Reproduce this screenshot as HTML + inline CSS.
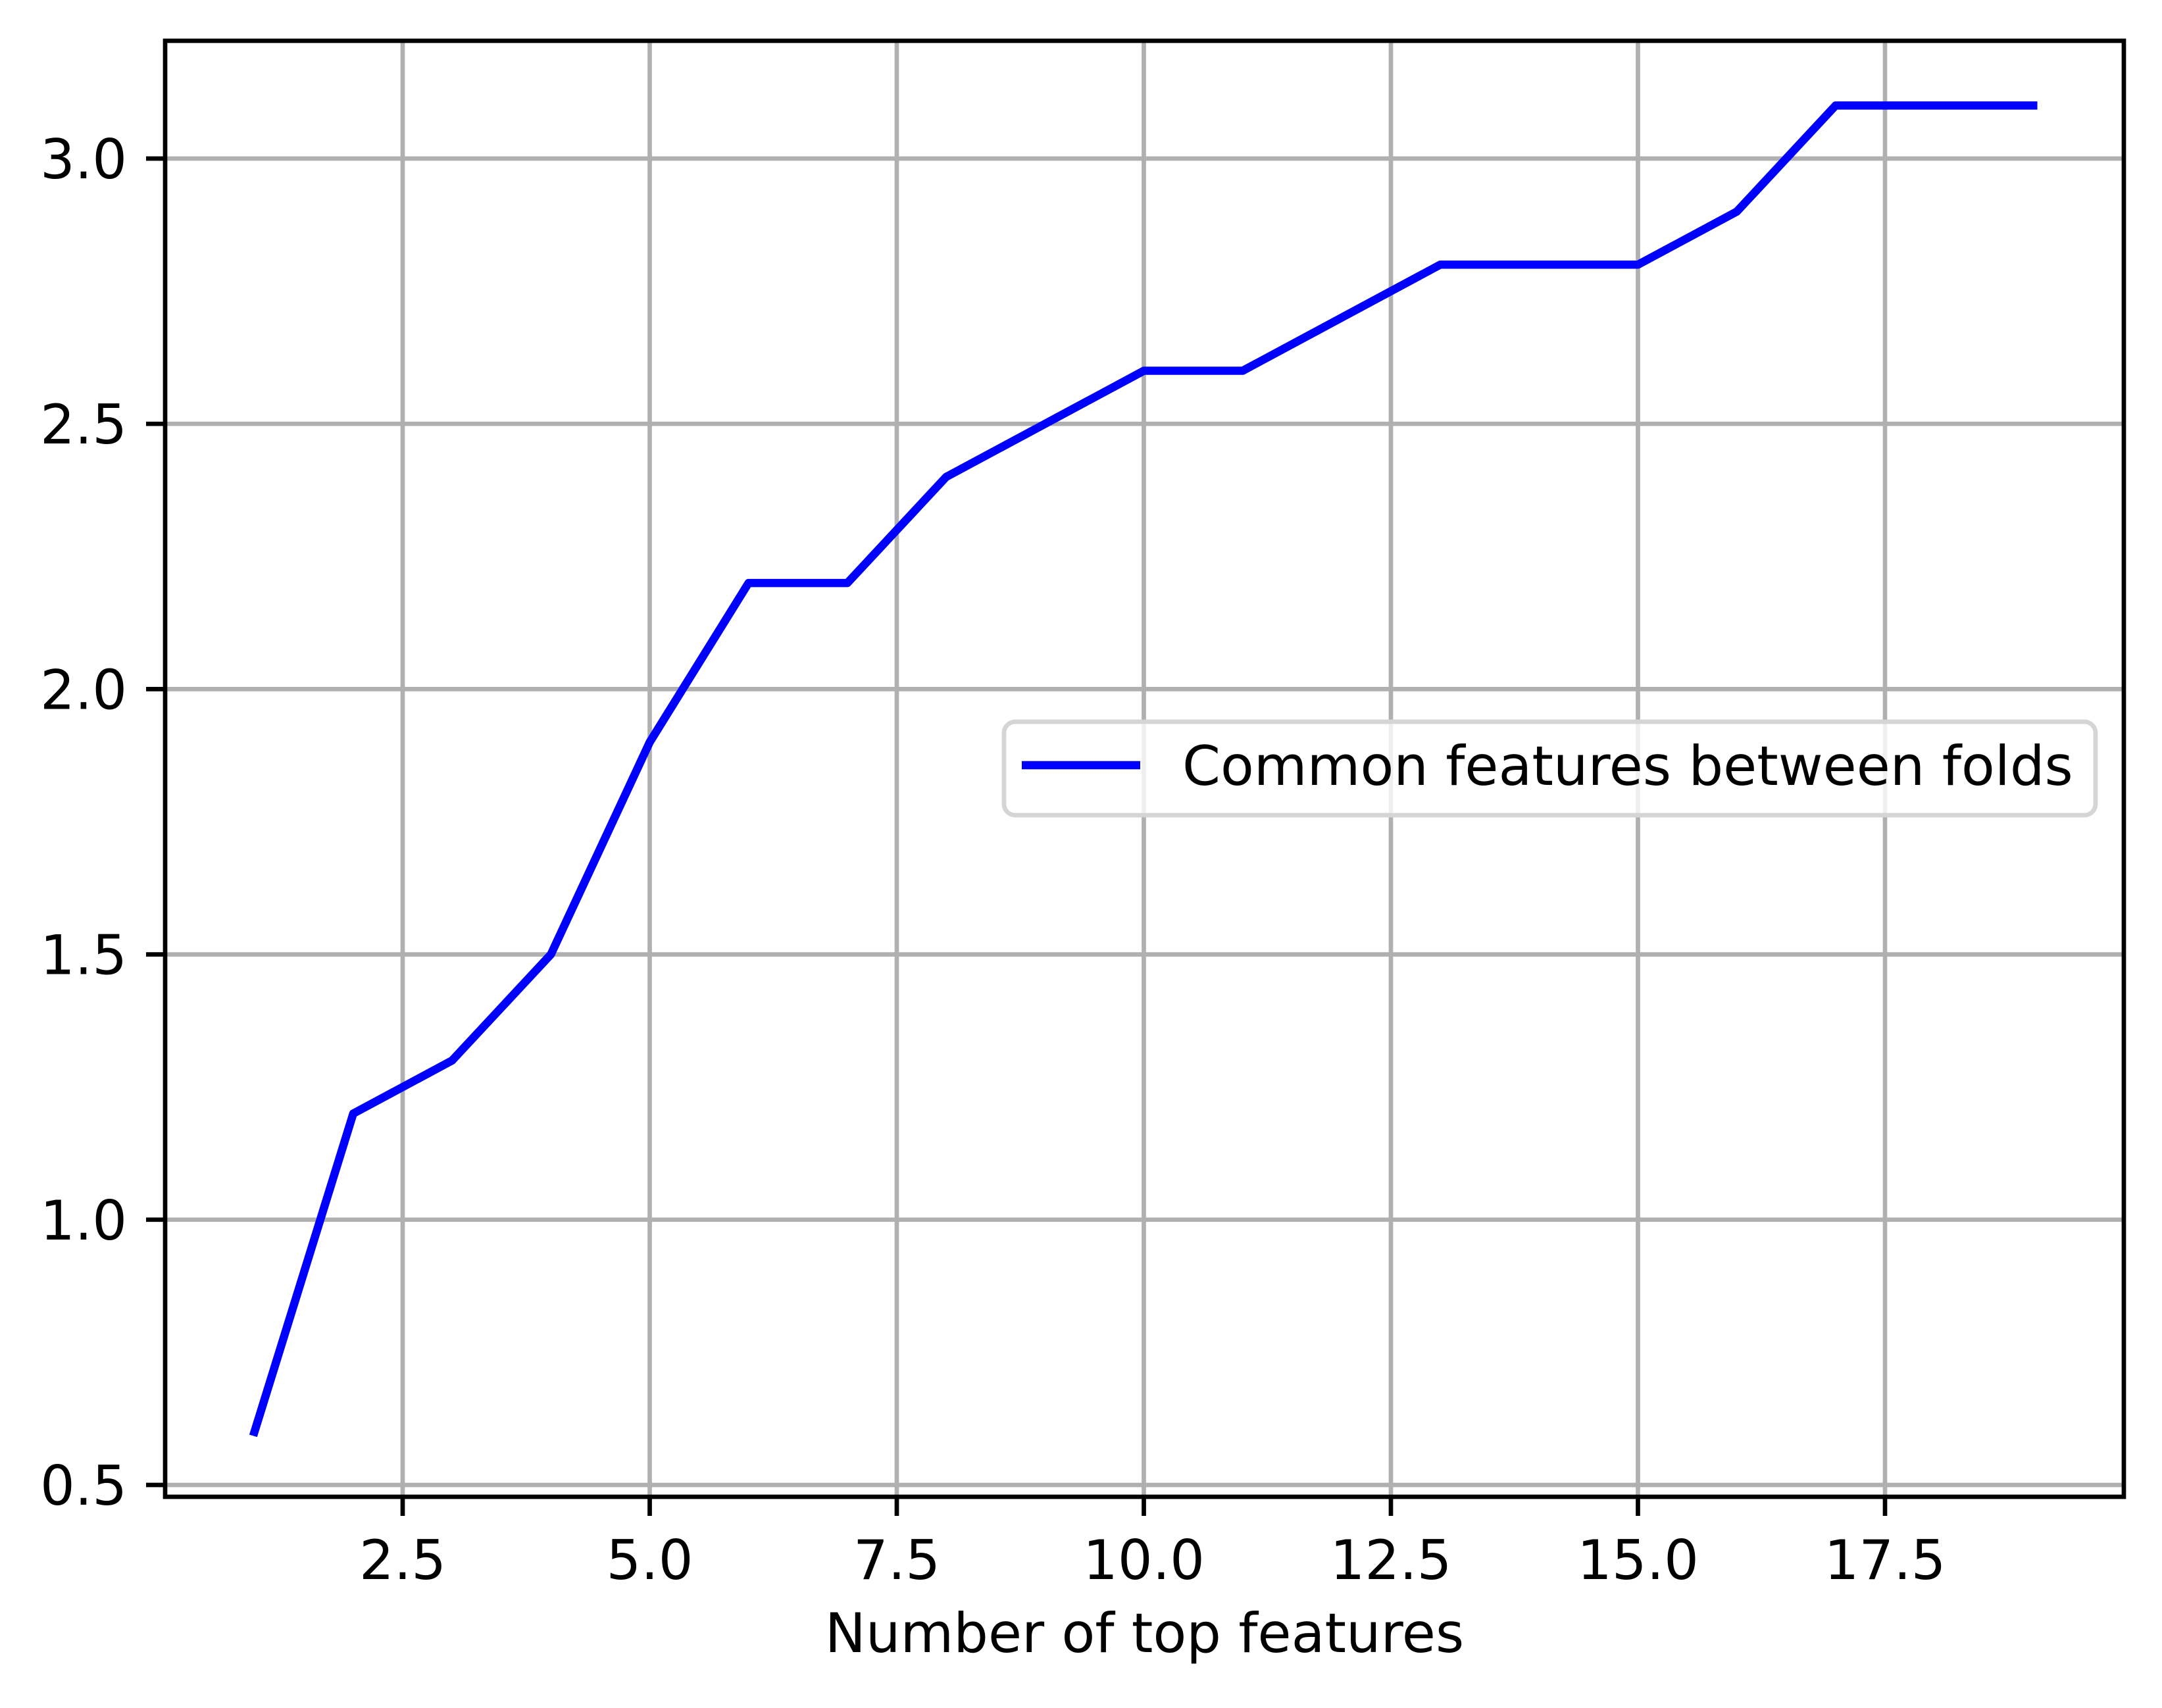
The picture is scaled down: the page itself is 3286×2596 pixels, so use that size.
<!DOCTYPE html>
<html><head><meta charset="utf-8"><style>
html,body{margin:0;padding:0;background:#fff;}
svg text{font-family:"DejaVu Sans","Liberation Sans",sans-serif;fill:#000;}
</style></head><body>
<svg id="chart" width="3286" height="2591" viewBox="0 0 3286 2591" xmlns="http://www.w3.org/2000/svg">
<rect width="3286" height="2591" fill="#fff"/>
<g id="grid"></g><g id="series"></g><g id="axes"></g><g id="legend"></g>
</svg>
<script>
const xValues = [1,2,3,4,5,6,7,8,9,10,11,12,13,14,15,16,17,18,19];
const yValues = [0.6,1.2,1.3,1.5,1.9,2.2,2.2,2.4,2.5,2.6,2.6,2.7,2.8,2.8,2.8,2.9,3.1,3.1,3.1];
const xTicks = [2.5,5.0,7.5,10.0,12.5,15.0,17.5];
const yTicks = [0.5,1.0,1.5,2.0,2.5,3.0];
const xLabel = "Number of top features";
const legendLabel = "Common features between folds";

const NS="http://www.w3.org/2000/svg";
const L=251,R=3228,T=62,B=2275,FS=83;
function X(v){return 386.7+(v-1)*150.2;}
function Y(v){return 241+(3.0-v)*806.4;}
function mk(tag,attrs,parent){const e=document.createElementNS(NS,tag);for(const k in attrs)e.setAttribute(k,attrs[k]);parent.appendChild(e);return e;}
const grid=document.getElementById('grid'),axes=document.getElementById('axes'),series=document.getElementById('series'),legend=document.getElementById('legend');

xTicks.forEach(t=>{
  const g=mk('line',{x1:X(t),x2:X(t),y1:T,y2:B,stroke:'#b0b0b0','stroke-width':6.7},grid);
  
  
  const tk=mk('line',{x1:X(t),x2:X(t),y1:B,y2:B+29,stroke:'#000','stroke-width':6.7},axes);
  
  
  const tx=mk('text',{x:X(t),y:2400,'font-size':FS,'text-anchor':'middle'},axes);
  tx.textContent=t.toFixed(1);
  
  
});
yTicks.forEach(t=>{
  const g=mk('line',{x1:L,x2:R,y1:Y(t),y2:Y(t),stroke:'#b0b0b0','stroke-width':6.7},grid);
  
  
  const tk=mk('line',{x1:L-29,x2:L,y1:Y(t),y2:Y(t),stroke:'#000','stroke-width':6.7},axes);
  
  
  const tx=mk('text',{x:L-58,y:Y(t)+30,'font-size':FS,'text-anchor':'end'},axes);
  tx.textContent=t.toFixed(1);
  
  
});
const pts=xValues.map((x,i)=>X(x)+','+Y(yValues[i])).join(' ');
const pl=mk('polyline',{points:pts,fill:'none',stroke:'#0000ff','stroke-width':12.5,'stroke-linejoin':'round','stroke-linecap':'square'},series);



const frame=mk('rect',{x:L,y:T,width:R-L,height:B-T,fill:'none',stroke:'#000','stroke-width':6.7},axes);


const xl=mk('text',{x:(L+R)/2,y:2511,'font-size':FS,'text-anchor':'middle'},axes);
xl.textContent=xLabel;



const lb=mk('rect',{x:1526,y:1097,width:1659,height:142,rx:17,fill:'#fff','fill-opacity':0.8,stroke:'#d5d5d5','stroke-width':6.7},legend);


const ll=mk('line',{x1:1553,x2:1733,y1:1163,y2:1163,stroke:'#0000ff','stroke-width':12.5},legend);


const lt=mk('text',{x:1797,y:1193,'font-size':FS},legend);
lt.textContent=legendLabel;


</script>
</body></html>
